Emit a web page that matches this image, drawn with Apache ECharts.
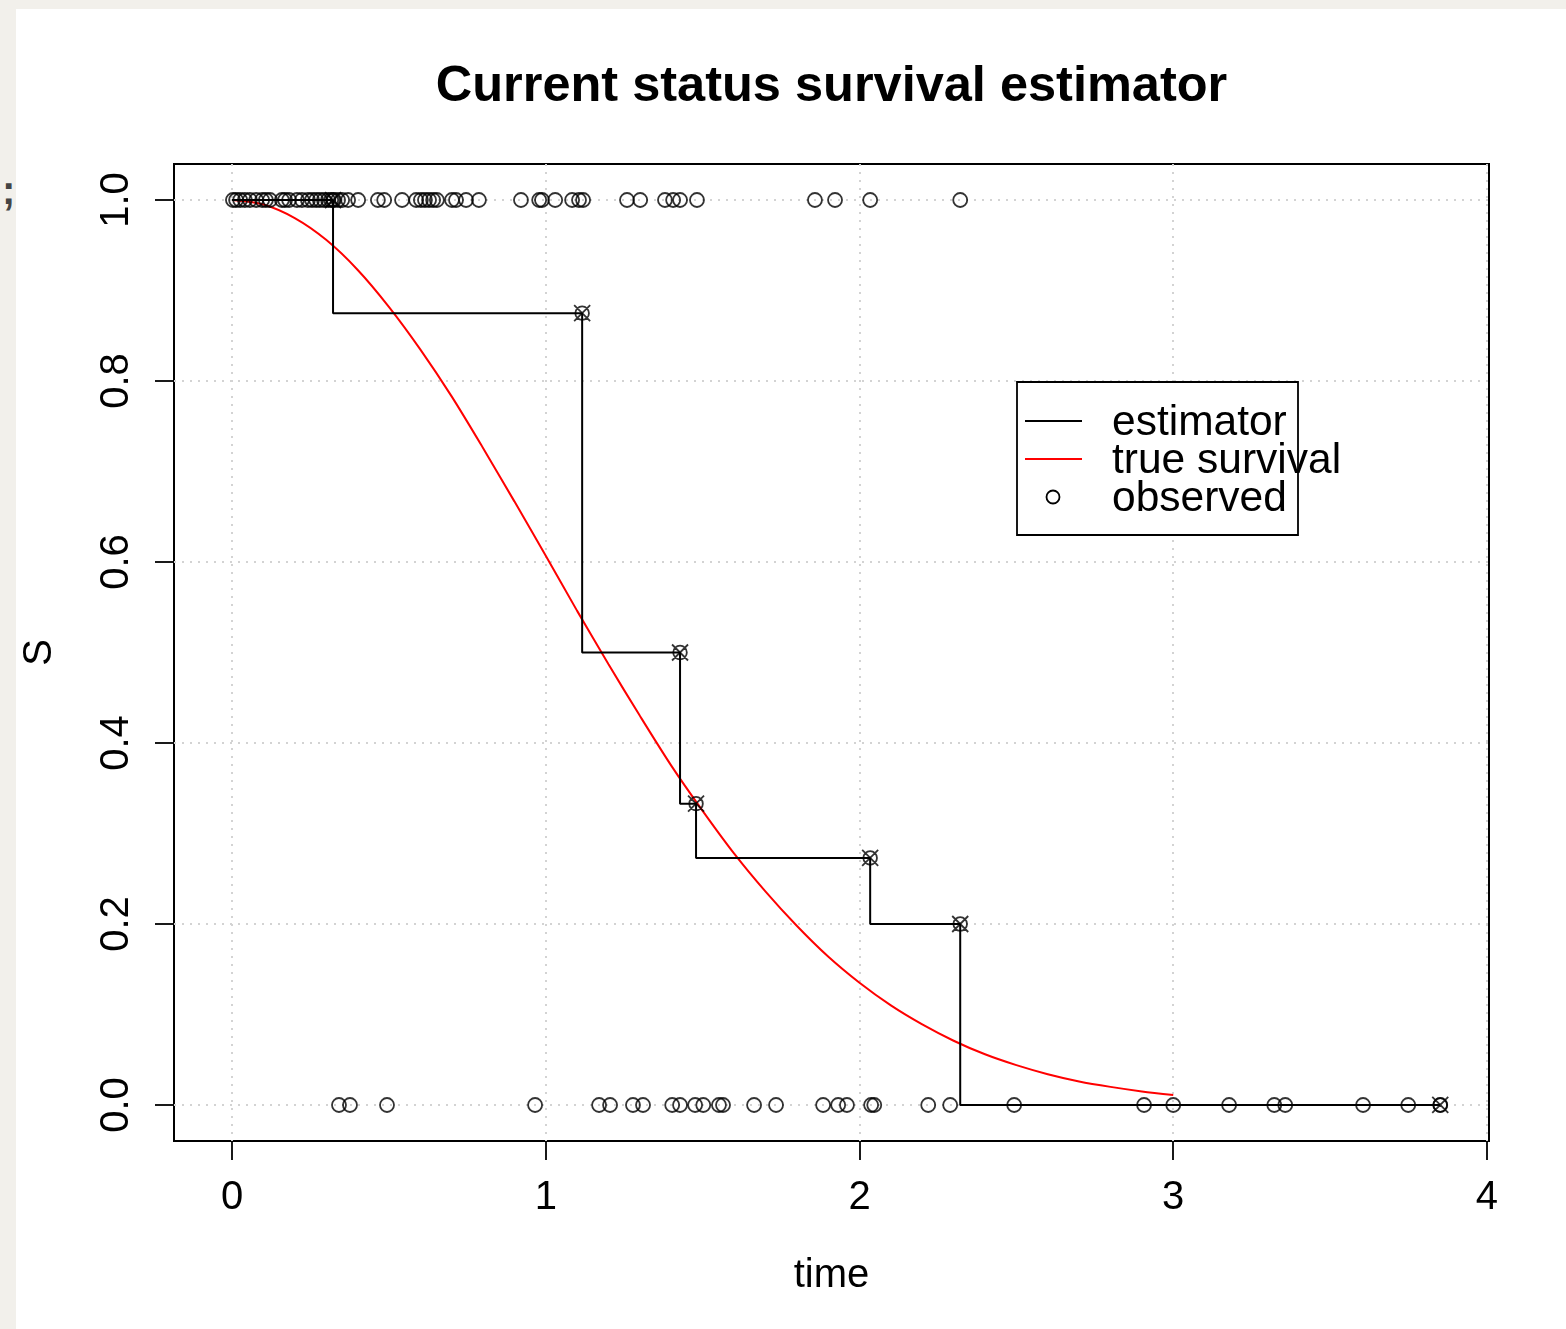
<!DOCTYPE html>
<html>
<head>
<meta charset="utf-8">
<script src="https://cdn.jsdelivr.net/npm/echarts@6/dist/echarts.min.js"></script>
<style>
  html, body { margin: 0; padding: 0; width: 1566px; height: 1329px; overflow: hidden; background: #f2f0eb; }
  #card { position: absolute; left: 16px; top: 9px; right: 0; bottom: 0; background: #fff; }
  #chart { position: absolute; left: 0; top: 0; width: 1566px; height: 1329px; }
  #semi { position: absolute; left: 2px; top: 168px; font: bold 40px "Liberation Sans", Arial, sans-serif; color: #444; }
</style>
</head>
<body>
<div id="card"></div>
<div id="semi">;</div>
<div id="chart"></div>
<script>
// observed current-status times (S = 1 : not yet failed, S = 0 : failed)
const topTimes = [0.003, 0.013, 0.026, 0.041, 0.057, 0.077, 0.096, 0.108, 0.121, 0.159, 0.169, 0.182,
  0.207, 0.223, 0.242, 0.255, 0.268, 0.280, 0.293, 0.306, 0.316, 0.325, 0.338, 0.351, 0.370, 0.402,
  0.465, 0.485, 0.542, 0.587, 0.602, 0.615, 0.628, 0.641, 0.653, 0.701, 0.714, 0.746, 0.787, 0.921,
  0.979, 0.988, 1.030, 1.084, 1.106, 1.119, 1.259, 1.301, 1.380, 1.406, 1.428, 1.482, 1.858, 1.922,
  2.034, 2.321];
const bottomTimes = [0.341, 0.376, 0.494, 0.966, 1.170, 1.205, 1.278, 1.310, 1.403, 1.428, 1.476,
  1.502, 1.552, 1.565, 1.664, 1.734, 1.884, 1.932, 1.960, 2.037, 2.047, 2.219, 2.289, 2.493, 2.907,
  3.000, 3.178, 3.322, 3.357, 3.605, 3.749, 3.851];

// step estimator (value holds up to each time)
const estTimes = [0, 0.322, 1.116, 1.428, 1.479, 2.034, 2.321, 3.851];
const estSurv = [1, 1, 0.875, 0.5, 0.333, 0.273, 0.2, 0];

// true survival curve
const trueTimes = [0, 0.1, 0.2, 0.3, 0.4, 0.5, 0.6, 0.7, 0.8, 0.9, 1.0, 1.1, 1.2, 1.3, 1.4, 1.5,
  1.6, 1.7, 1.8, 1.9, 2.0, 2.1, 2.2, 2.3, 2.4, 2.5, 2.6, 2.7, 2.8, 2.9, 3.0];
const trueSurv = [1.000, 0.995, 0.980, 0.956, 0.923, 0.882, 0.835, 0.783, 0.726, 0.667, 0.607,
  0.546, 0.487, 0.430, 0.375, 0.325, 0.278, 0.236, 0.198, 0.164, 0.135, 0.110, 0.089, 0.071,
  0.056, 0.044, 0.034, 0.026, 0.020, 0.015, 0.011];

const xTicks = [0, 1, 2, 3, 4];
const yTicks = [0, 0.2, 0.4, 0.6, 0.8, 1.0];
const legendNames = ['estimator', 'true survival', 'observed'];

const FONT = '"Liberation Sans", Arial, Helvetica, sans-serif';
const chart = echarts.init(document.getElementById('chart'));

const observed = topTimes.map(t => [t, 1]).concat(bottomTimes.map(t => [t, 0]));
const estData = estTimes.map((t, i) => [t, estSurv[i]]);
const trueData = trueTimes.map((t, i) => [t, trueSurv[i]]);

const circleX = 'path://M10,1.5A8.5,8.5,0,1,1,10,18.5A8.5,8.5,0,1,1,10,1.5ZM0,0L20,20M20,0L0,20';
const gridLine = { color: '#d3d3d3', type: [2, 6], width: 2 };
const tickLine = { color: '#000', width: 1.8 };
const labelStyle = { fontFamily: FONT, fontSize: 40, color: '#000' };

chart.setOption({
  backgroundColor: 'transparent',
  animation: false,
  grid: {
    left: 174, top: 164, width: 1315, height: 977,
    show: true, borderColor: '#000', borderWidth: 2, backgroundColor: 'transparent'
  },
  xAxis: {
    type: 'value', min: -0.1849, max: 4.0064,
    axisLine: { show: false, onZero: false },
    axisTick: { show: true, inside: false, length: 19, lineStyle: tickLine, customValues: xTicks },
    axisLabel: { customValues: xTicks, margin: 37, ...labelStyle },
    splitLine: { show: true, lineStyle: gridLine },
    name: 'time', nameLocation: 'middle', nameGap: 115,
    nameTextStyle: { ...labelStyle }
  },
  yAxis: {
    type: 'value', min: -0.0398, max: 1.0398,
    axisLine: { show: false, onZero: false },
    axisTick: { show: true, inside: false, length: 19, lineStyle: tickLine, customValues: yTicks },
    axisLabel: { customValues: yTicks, margin: 37, rotate: 90, formatter: v => v.toFixed(1), ...labelStyle },
    splitLine: { show: true, lineStyle: gridLine },
    name: 'S', nameLocation: 'middle', nameGap: 114,
    nameTextStyle: { ...labelStyle }
  },
  series: [
    {
      name: 'true survival', type: 'line', data: trueData,
      showSymbol: false, silent: true, clip: false,
      smooth: 0.3,
      lineStyle: { color: '#ff0000', width: 2 }, z: 3
    },
    {
      name: 'estimator', type: 'line', step: 'start', data: estData,
      symbol: 'none', silent: true, clip: false,
      lineStyle: { color: '#000', width: 2 }, z: 4
    },
    {
      name: 'estimator points', type: 'scatter', data: estData.slice(1),
      symbol: circleX, symbolSize: 16, silent: true, clip: false,
      itemStyle: { color: 'transparent', borderColor: '#000', borderWidth: 1.8 }, z: 5
    },
    {
      name: 'observed', type: 'scatter', data: observed,
      symbol: 'circle', symbolSize: 14, silent: true, clip: false,
      itemStyle: { color: 'transparent', borderColor: '#000', borderWidth: 1.8 }, z: 5
    }
  ],
  graphic: [
    {
      type: 'text', x: 831.5, y: 87, z: 100,
      style: {
        text: 'Current status survival estimator', fill: '#000',
        font: 'bold 50.5px ' + FONT, textAlign: 'center', textVerticalAlign: 'middle',
        align: 'center', verticalAlign: 'middle'
      }
    },
    { type: 'rect', z: 100, shape: { x: 1017, y: 382, width: 281, height: 153 },
      style: { fill: '#fff', stroke: '#000', lineWidth: 1.8 } },
    { type: 'line', z: 101, shape: { x1: 1025, y1: 421, x2: 1082, y2: 421 },
      style: { stroke: '#000', lineWidth: 2 } },
    { type: 'line', z: 101, shape: { x1: 1025, y1: 459, x2: 1082, y2: 459 },
      style: { stroke: '#ff0000', lineWidth: 2 } },
    { type: 'circle', z: 101, shape: { cx: 1053, cy: 497, r: 6.5 },
      style: { fill: 'transparent', stroke: '#000', lineWidth: 1.8 } }
  ].concat(legendNames.map((n, i) => ({
    type: 'text', x: 1112, y: 423 + i * 38, z: 101,
    style: {
      text: n, fill: '#000', font: '42.5px ' + FONT,
      textAlign: 'left', textVerticalAlign: 'middle', align: 'left', verticalAlign: 'middle'
    }
  })))
});
</script>
</body>
</html>
